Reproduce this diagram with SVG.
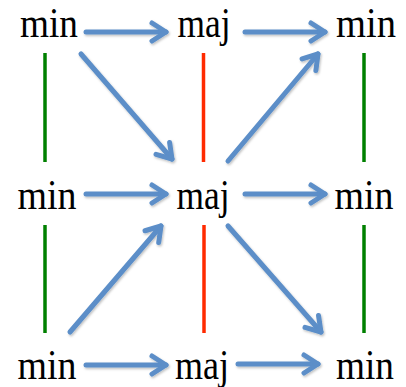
<svg xmlns="http://www.w3.org/2000/svg" width="406" height="387" viewBox="0 0 406 387">
<style>
.lbl{font-family:"Liberation Serif","Times New Roman",serif;font-size:42px;fill:#000;text-anchor:middle}
.arr{stroke:#5b8ec8;stroke-width:5;fill:none;stroke-linecap:round;marker-end:url(#ah)}
.g{stroke:#008000;stroke-width:3.5}
.r{stroke:#ff2a00;stroke-width:3.5}
</style>
<defs>
<marker id="ah" markerUnits="userSpaceOnUse" viewBox="-20 -14 24 28" markerWidth="24" markerHeight="28" refX="0" refY="0" orient="auto" overflow="visible">
<path d="M-14,-9 L0,0 L-14,9" stroke="#5b8ec8" stroke-width="5" fill="none" stroke-linecap="round" stroke-linejoin="round"/>
</marker>
<filter id="sh" x="-10%" y="-10%" width="130%" height="130%">
<feDropShadow dx="1" dy="1.5" stdDeviation="1" flood-color="#000" flood-opacity="0.25"/>
</filter>
</defs>
<g id="n_tl"><text class="lbl" x="49" y="37" textLength="58" lengthAdjust="spacingAndGlyphs">min</text></g>
<g id="n_tm"><text class="lbl" x="204" y="37" textLength="53" lengthAdjust="spacingAndGlyphs">maj</text></g>
<g id="n_tr"><text class="lbl" x="366" y="37" textLength="60" lengthAdjust="spacingAndGlyphs">min</text></g>
<g id="n_ml"><text class="lbl" x="47" y="209" textLength="59" lengthAdjust="spacingAndGlyphs">min</text></g>
<g id="n_mm"><text class="lbl" x="203" y="209" textLength="53" lengthAdjust="spacingAndGlyphs">maj</text></g>
<g id="n_mr"><text class="lbl" x="364" y="209" textLength="59" lengthAdjust="spacingAndGlyphs">min</text></g>
<g id="n_bl"><text class="lbl" x="47" y="379" textLength="59" lengthAdjust="spacingAndGlyphs">min</text></g>
<g id="n_bm"><text class="lbl" x="202" y="379" textLength="54" lengthAdjust="spacingAndGlyphs">maj</text></g>
<g id="n_br"><text class="lbl" x="365" y="379" textLength="58" lengthAdjust="spacingAndGlyphs">min</text></g>
<g id="connectors">
<line class="g" x1="45" y1="53" x2="45" y2="162"/>
<line class="r" x1="203.5" y1="53" x2="203.5" y2="162"/>
<line class="g" x1="364" y1="53" x2="364" y2="162"/>
<line class="g" x1="45" y1="225" x2="45" y2="333"/>
<line class="r" x1="204" y1="225" x2="204" y2="333"/>
<line class="g" x1="364" y1="225" x2="364" y2="333"/>
<g filter="url(#sh)">
<line class="arr" x1="86" y1="32" x2="166" y2="32"/>
<line class="arr" x1="245" y1="32" x2="325" y2="32"/>
<line class="arr" x1="81" y1="54" x2="172" y2="159"/>
<line class="arr" x1="228" y1="161" x2="318" y2="54"/>
<line class="arr" x1="86" y1="194" x2="166" y2="194"/>
<line class="arr" x1="245" y1="194" x2="325" y2="194"/>
<line class="arr" x1="70" y1="332" x2="161" y2="226"/>
<line class="arr" x1="228" y1="226" x2="321" y2="332"/>
<line class="arr" x1="86" y1="365" x2="166" y2="365"/>
<line class="arr" x1="238" y1="364" x2="318" y2="364"/>
</g>
</g>
</svg>
